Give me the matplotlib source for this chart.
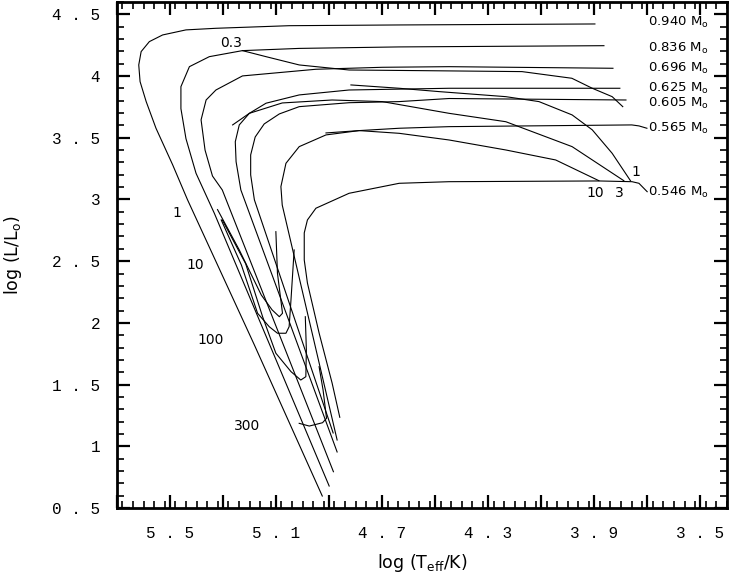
import numpy as np
import matplotlib
matplotlib.use("Agg")
import matplotlib.pyplot as plt
from matplotlib.ticker import FixedLocator, MultipleLocator, FuncFormatter

plt.rcParams['mathtext.fontset'] = 'dejavusans'

# post-AGB tracks: log Teff, log L
t_940 = [3.898, 4.260, 4.636, 5.051, 5.327, 5.440, 5.528, 5.578, 5.609, 5.618, 5.613, 5.590, 5.553, 5.490, 5.434, 5.182, 4.926]
l_940 = [4.422, 4.418, 4.414, 4.408, 4.387, 4.374, 4.333, 4.279, 4.198, 4.090, 3.955, 3.793, 3.577, 3.280, 2.997, 1.821, 0.597]

t_836 = [3.864, 4.260, 4.636, 5.013, 5.227, 5.352, 5.427, 5.459, 5.459, 5.440, 5.402, 5.333, 4.900]
l_836 = [4.246, 4.241, 4.236, 4.224, 4.206, 4.157, 4.076, 3.914, 3.736, 3.493, 3.212, 2.888, 0.678]

t_696 = [3.830, 4.448, 4.700, 4.950, 5.227, 5.327, 5.364, 5.383, 5.368, 5.340, 5.303, 4.884]
l_696 = [4.063, 4.076, 4.071, 4.055, 4.001, 3.887, 3.806, 3.645, 3.400, 3.190, 3.077, 0.794]

t_625 = [3.804, 4.448, 4.825, 5.013, 5.138, 5.201, 5.239, 5.254, 5.251, 5.233, 4.870]
l_625 = [3.901, 3.901, 3.887, 3.847, 3.780, 3.698, 3.604, 3.468, 3.306, 3.077, 0.954]

t_605 = [3.781, 4.448, 4.636, 4.825, 5.013, 5.088, 5.145, 5.179, 5.196, 5.196, 5.182, 4.885]
l_605 = [3.806, 3.818, 3.793, 3.784, 3.752, 3.693, 3.612, 3.506, 3.361, 3.199, 2.997, 1.108]

t_565 = [3.702, 3.732, 3.759, 4.448, 4.636, 4.787, 4.912, 5.013, 5.063, 5.082, 5.077, 4.870]
l_565 = [3.577, 3.596, 3.604, 3.590, 3.577, 3.558, 3.523, 3.428, 3.293, 3.104, 2.955, 1.051]

t_546 = [3.701, 3.732, 3.758, 3.883, 4.448, 4.636, 4.825, 4.950, 4.982, 4.994, 4.994, 4.982, 4.938, 4.889, 4.860]
l_546 = [3.063, 3.131, 3.144, 3.150, 3.144, 3.131, 3.050, 2.929, 2.834, 2.729, 2.510, 2.323, 1.918, 1.513, 1.235]

masses = ["0.940", "0.836", "0.696", "0.625", "0.605", "0.565", "0.546"]
mass_label_l = [4.433, 4.225, 4.058, 3.899, 3.782, 3.577, 3.058]

# isochrones (time since leaving the AGB, 10^3 yr)
t_iso03 = [5.227, 5.138, 5.013, 4.825, 4.561, 4.173, 3.985, 3.908, 3.833, 3.793]
l_iso03 = [4.206, 4.157, 4.090, 4.049, 4.044, 4.036, 3.982, 3.901, 3.833, 3.752]

t_iso1 = [4.818, 4.636, 4.486, 4.234, 4.109, 3.984, 3.908, 3.833, 3.764]
l_iso1 = [3.928, 3.901, 3.874, 3.833, 3.793, 3.685, 3.564, 3.374, 3.152]

t_iso3 = [5.264, 5.201, 5.077, 4.889, 4.700, 4.448, 4.234, 3.984, 3.789]
l_iso3 = [3.604, 3.698, 3.782, 3.806, 3.793, 3.698, 3.630, 3.428, 3.152]

t_iso10 = [4.912, 4.787, 4.636, 4.448, 4.234, 4.046, 3.883]
l_iso10 = [3.539, 3.558, 3.536, 3.482, 3.401, 3.320, 3.152]

t_hook1 = [5.321, 5.239, 5.156, 5.115, 5.088, 5.076, 5.095, 5.101]
l_hook1 = [2.918, 2.591, 2.226, 2.105, 2.050, 2.078, 2.402, 2.739]

t_hook10 = [5.307, 5.231, 5.170, 5.126, 5.095, 5.063, 5.051, 5.044, 5.032]
l_hook10 = [2.834, 2.469, 2.078, 1.969, 1.916, 1.916, 1.969, 2.186, 2.591]

t_hook100 = [5.303, 5.215, 5.151, 5.101, 5.044, 5.007, 4.988, 4.986, 4.990]
l_hook100 = [2.834, 2.480, 2.050, 1.754, 1.605, 1.537, 1.564, 1.780, 2.050]

t_hook300 = [5.013, 4.975, 4.925, 4.910, 4.923, 4.938]
l_hook300 = [1.186, 1.164, 1.191, 1.227, 1.456, 1.645]

time_labels = ["0.3", "1", "10", "100", "300", "10", "3", "1"]
time_label_t = [5.269, 5.476, 5.405, 5.348, 5.209, 3.898, 3.806, 3.744]
time_label_l = [4.268, 2.891, 2.469, 1.861, 1.165, 3.053, 3.053, 3.223]

fig = plt.figure(figsize=(7.29, 5.73), dpi=100)
ax = fig.add_axes([117 / 729, 65 / 573, 610 / 729, 506 / 573])

tracks = [(t_940, l_940), (t_836, l_836), (t_696, l_696), (t_625, l_625),
          (t_605, l_605), (t_565, l_565), (t_546, l_546)]
for t, l in tracks:
    ax.plot(t, l, color='black', lw=0.8)

isos = [(t_iso03, l_iso03), (t_iso1, l_iso1), (t_iso3, l_iso3), (t_iso10, l_iso10),
        (t_hook1, l_hook1), (t_hook10, l_hook10), (t_hook100, l_hook100), (t_hook300, l_hook300)]
for t, l in isos:
    ax.plot(t, l, color='black', lw=0.8)

for m, y in zip(masses, mass_label_l):
    ax.text(3.697, y, m + r" M$_\mathrm{o}$", fontsize=9.5, va='center', ha='left')

for s, x, y in zip(time_labels, time_label_t, time_label_l):
    ax.text(x, y, s, fontsize=10, va='center', ha='center')

ax.set_xlim(5.7, 3.4)
ax.set_ylim(0.5, 4.6)

xmaj = [5.7, 5.5, 5.3, 5.1, 4.9, 4.7, 4.5, 4.3, 4.1, 3.9, 3.7, 3.5]
xlab = [5.5, 5.1, 4.7, 4.3, 3.9, 3.5]


def xfmt(v, pos):
    for q in xlab:
        if abs(v - q) < 1e-6:
            return f"{q:g}".replace(".", " . ")
    return ""


def yfmt(v, pos):
    return f"{v:g}".replace(".", " . ")


ax.xaxis.set_major_locator(FixedLocator(xmaj))
ax.xaxis.set_major_formatter(FuncFormatter(xfmt))
ax.xaxis.set_minor_locator(MultipleLocator(0.04))
ax.yaxis.set_major_locator(MultipleLocator(0.5))
ax.yaxis.set_major_formatter(FuncFormatter(yfmt))
ax.yaxis.set_minor_locator(MultipleLocator(0.1))

ax.tick_params(which='both', direction='in', top=True, right=True)
ax.tick_params(which='major', length=9.5, width=1.6)
ax.tick_params(which='minor', length=5, width=1.2)
ax.tick_params(axis='x', which='major', pad=13)
ax.tick_params(axis='y', which='major', pad=12)
for lab in ax.get_xticklabels() + ax.get_yticklabels():
    lab.set_family('Liberation Mono')
    lab.set_fontsize(11.5)
for sp in ax.spines.values():
    sp.set_linewidth(2)

ax.set_xlabel(r"log (T$_\mathrm{eff}$/K)", fontsize=12.5, labelpad=8)
ax.set_ylabel(r"log (L/L$_\mathrm{o}$)", fontsize=12.5, labelpad=20)

fig.savefig("out.png", dpi=100)
